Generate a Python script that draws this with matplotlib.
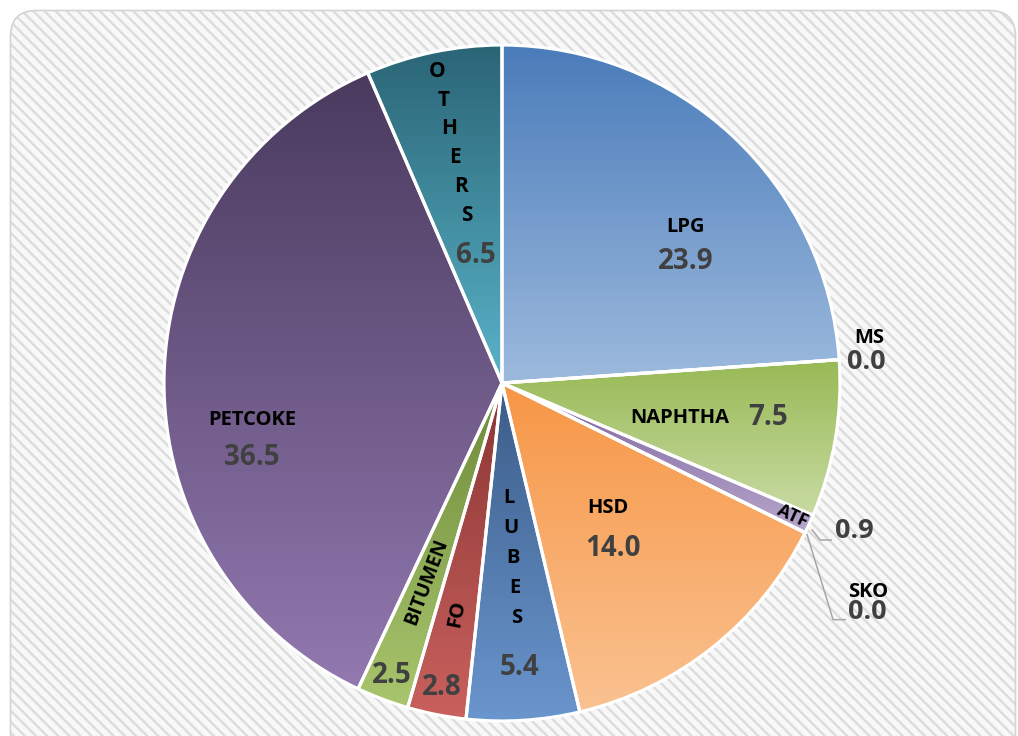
import numpy as np
import matplotlib
matplotlib.use('Agg')
import matplotlib.pyplot as plt
from matplotlib.patches import FancyBboxPatch
from matplotlib.colors import to_rgb

# Product share (%)
categories = ['LPG', 'MS', 'NAPHTHA', 'ATF', 'SKO', 'HSD', 'LUBES', 'FO', 'BITUMEN', 'PETCOKE', 'OTHERS']
values = [23.9, 0.0, 7.5, 0.9, 0.0, 14.0, 5.4, 2.8, 2.5, 36.5, 6.5]
value_labels = ['23.9', '0.0', '7.5', '0.9', '0.0', '14.0', '5.4', '2.8', '2.5', '36.5', '6.5']

# gradient ends per slice (top -> bottom)
top_colors = ['#4A7CBA', '#4A7CBA', '#98B954', '#7E63A0', '#7E63A0', '#F79646',
              '#3B5C88', '#8A3533', '#6E8A3A', '#4A3A5E', '#2A6576']
bottom_colors = ['#9DBADD', '#9DBADD', '#C8DBA3', '#B7A7CB', '#B7A7CB', '#FAC291',
                 '#6A96CE', '#C9615E', '#A9C66E', '#9279B0', '#5AB3C9']

FONT = 'Open Sans'

W, H = 1018, 736
plt.rcParams['hatch.linewidth'] = 1.7
fig = plt.figure(figsize=(W / 100, H / 100), dpi=100)
ax = fig.add_axes([0, 0, 1, 1])

# chart area: striped fill with rounded grey border
bg = FancyBboxPatch((10.5, -60), 1005, H - 10.5 + 60, boxstyle='round,pad=0,rounding_size=26',
                    facecolor='#F8F8F8', edgecolor='#DCDCDC', linewidth=0, hatch='\\\\\\', zorder=0)
ax.add_patch(bg)
ax.add_patch(FancyBboxPatch((10.5, -60), 1005, H - 10.5 + 60, boxstyle='round,pad=0,rounding_size=26',
                            facecolor='none', edgecolor='#D4D4D4', linewidth=1.2, zorder=0.5))

cx, cy, R = 502, H - 383, 338

wedges, _ = ax.pie(values, startangle=90, counterclock=False, center=(cx, cy), radius=R,
                   colors=top_colors, frame=True,
                   wedgeprops=dict(edgecolor='white', linewidth=2.3))

for w, v, c_top, c_bot in zip(wedges, values, top_colors, bottom_colors):
    w.set_zorder(3)
    if v <= 0:
        continue
    bb = w.get_path().get_extents()
    t = np.linspace(0, 1, 256)[:, None]
    grad = np.array(to_rgb(c_bot)) * (1 - t) + np.array(to_rgb(c_top)) * t
    img = ax.imshow(grad[:, None, :], extent=[bb.x0, bb.x1, bb.y0, bb.y1], origin='lower',
                    aspect='auto', interpolation='bilinear', zorder=2)
    img.set_clip_path(w)
    w.set_facecolor('none')

# slice angles
total = sum(values)
edges = 90 - 360 * np.concatenate([[0], np.cumsum(values)]) / total
mids = (edges[:-1] + edges[1:]) / 2


def pt(a, r):
    a = np.radians(a)
    return cx + r * np.cos(a), cy + r * np.sin(a)


name_kw = dict(family=FONT, fontweight='bold', color='black', fontsize=14.5, ha='center', va='center', zorder=5)
val_kw = dict(family=FONT, fontweight='bold', color='#404040', fontsize=20, ha='center', va='center', zorder=5)
out_kw = dict(val_kw, fontsize=19.5, ha='left')

# LPG
x, y = pt(mids[0] - 10, 0.68 * R)
ax.text(x, y + 18, categories[0], **name_kw)
ax.text(x, y - 17, value_labels[0], **val_kw)

# MS (outside, zero slice)
x, y = pt(edges[1], R)
ax.text(x + 30, y + 22, categories[1], **name_kw)
ax.text(x + 8, y - 2, value_labels[1], **out_kw)

# NAPHTHA
x, y = pt(mids[2], 0.62 * R)
ax.text(x - 29, y, categories[2], **name_kw)
ax.text(x + 59, y, value_labels[2], **val_kw)

# ATF
x, y = pt(mids[3], 0.945 * R)
ax.text(x, y, categories[3], rotation=mids[3], **dict(name_kw, fontsize=13))
x, y = pt(mids[3], R)
ax.plot([x + 3, x + 11, x + 22], [y - 6, y - 16, y - 16], color='#A6A6A6', lw=1.1, zorder=4)
ax.text(x + 26, y - 7, value_labels[3], **out_kw)

# SKO
x, y = pt(edges[5], R)
ax.plot([x + 2, x + 28, x + 40], [y - 2, y - 87, y - 87], color='#A6A6A6', lw=1.1, zorder=4)
ax.text(x + 63, y - 59, categories[4], **name_kw)
ax.text(x + 43, y - 79, value_labels[4], **out_kw)

# HSD
x, y = pt(mids[5] - 2, 0.54 * R)
ax.text(x - 3, y + 22, categories[5], **name_kw)
ax.text(x + 2, y - 19, value_labels[5], **val_kw)

# LUBES: stacked letters along the radius
for i, ch in enumerate(categories[6]):
    ax.text(*pt(mids[6], 115 + 30 * i), ch, **name_kw)
ax.text(*pt(mids[6], 285), value_labels[6], **val_kw)

# FO and BITUMEN: rotated along the radius
ax.text(*pt(mids[7], 235), categories[7], rotation=mids[7] + 180, **name_kw)
ax.text(*pt(mids[7], 310), value_labels[7], **val_kw)
ax.text(*pt(mids[8], 213), categories[8], rotation=mids[8] + 180, **dict(name_kw, fontsize=14))
ax.text(*pt(mids[8], 313), value_labels[8], **val_kw)

# PETCOKE
x, y = pt(mids[9] + 13.5, 0.757 * R)
ax.text(x, y + 19, categories[9], **name_kw)
ax.text(x, y - 19, value_labels[9], **val_kw)

# OTHERS: stacked letters
for i, ch in enumerate(categories[10]):
    ax.text(*pt(mids[10], 318 - 29.3 * i), ch, **dict(name_kw, fontsize=15))
ax.text(*pt(mids[10], 130), value_labels[10], **val_kw)

ax.set_xlim(0, W)
ax.set_ylim(0, H)
ax.axis('off')
fig.savefig('out.png', dpi=100, facecolor='white')
